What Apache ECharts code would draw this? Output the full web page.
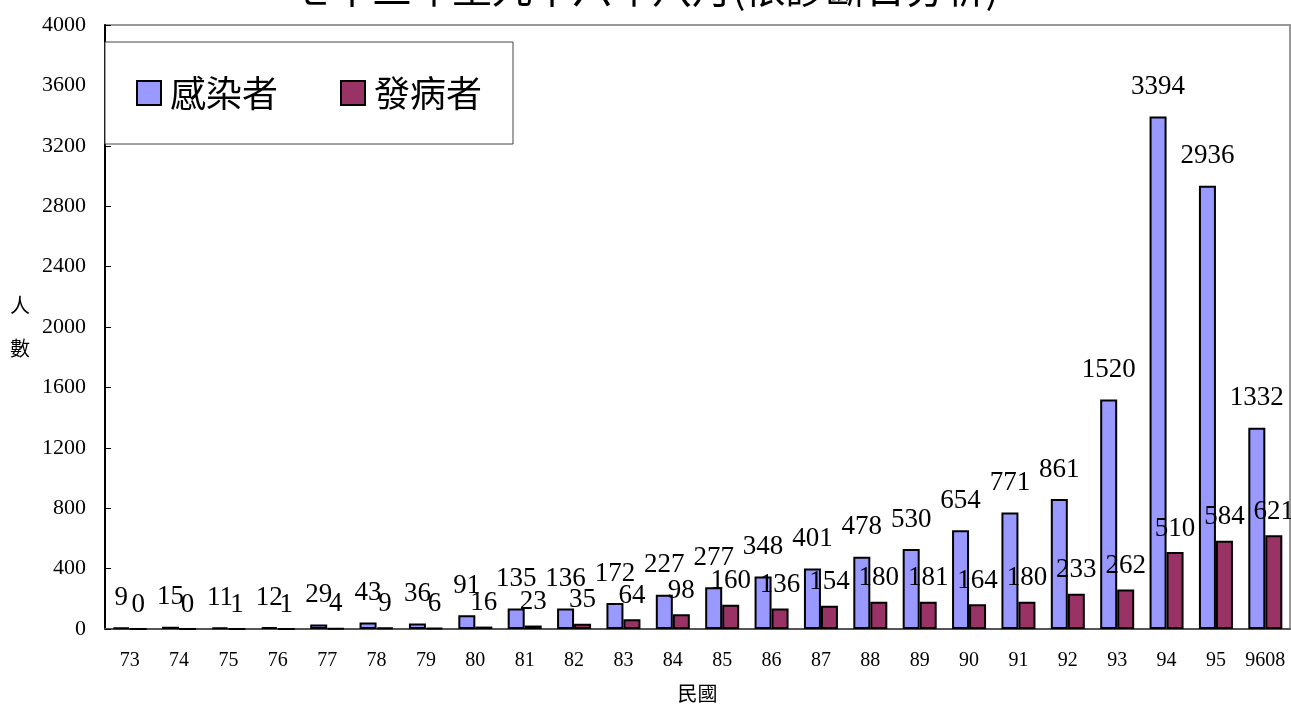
<!DOCTYPE html>
<html>
<head>
<meta charset="utf-8">
<script src="https://cdn.jsdelivr.net/npm/echarts@6/dist/echarts.min.js"></script>
<style>
html,body{margin:0;padding:0;background:#fff;}
#chart{width:1291px;height:704px;}
</style>
</head>
<body>
<div id="chart"></div>
<script>
const categories = ['73','74','75','76','77','78','79','80','81','82','83','84','85','86','87','88','89','90','91','92','93','94','95','9608'];
const infected = [9,15,11,12,29,43,36,91,135,136,172,227,277,348,401,478,530,654,771,861,1520,3394,2936,1332];
const diseased = [0,0,1,1,4,9,6,16,23,35,64,98,160,136,154,180,181,164,180,233,262,510,584,621];
const yTicks = {min:0, max:4000, interval:400};
const titleText = '七十三年至九十六年八月(依診斷日分析)';

const serif = '"Liberation Serif", "DejaVu Serif", serif';
const cjk = '"Noto Sans CJK TC", "Noto Sans CJK SC", sans-serif';

const chart = echarts.init(document.getElementById('chart'));
function labelStyle(dist){
  return {show:true, position:'top', distance:dist, color:'#000', fontFamily:serif, fontSize:27};
}
chart.setOption({
  animation:false,
  backgroundColor:'#fff',
  title:{text:titleText, left:'center', top:-37, textStyle:{fontFamily:cjk, fontSize:40, fontWeight:'normal', color:'#000'}},
  legend:{
    left:105, top:42, orient:'horizontal', icon:'rect',
    backgroundColor:'#fff', borderColor:'#444', borderWidth:1,
    padding:[33,31,33,31], itemGap:62, itemWidth:24, itemHeight:24,
    textStyle:{fontFamily:cjk, fontSize:36, color:'#000', padding:[0,0,0,4]},
    data:['感染者','發病者']
  },
  grid:{left:105, right:1, top:25, bottom:75, show:true, borderColor:'#999', borderWidth:2, outerBoundsMode:'none', containLabel:false},
  xAxis:{
    type:'category', data:categories,
    name:'民國', nameLocation:'middle', nameGap:54,
    nameTextStyle:{fontFamily:cjk, fontSize:20, color:'#000'},
    axisLine:{lineStyle:{color:'#555', width:2}},
    axisTick:{inside:true, length:6, lineStyle:{color:'#000'}},
    axisLabel:{interval:0, fontFamily:serif, fontSize:20, color:'#000', margin:22}
  },
  yAxis:{
    type:'value', min:yTicks.min, max:yTicks.max, interval:yTicks.interval,
    name:'人\n數', nameLocation:'middle', nameRotate:0, nameGap:75,
    nameTextStyle:{fontFamily:cjk, fontSize:20, color:'#000', lineHeight:43, padding:[0,0,9,0]},
    axisLine:{show:true, lineStyle:{color:'#000', width:2}},
    axisTick:{show:true, inside:true, length:6, lineStyle:{color:'#000'}},
    splitLine:{show:false},
    axisLabel:{fontFamily:serif, fontSize:22, color:'#000', margin:19, formatter:function(v){return String(v);}}
  },
  series:[
    {name:'感染者', type:'bar', data:infected, barWidth:17, barGap:'0%',
     itemStyle:{color:'#9999FF', borderColor:'#000', borderWidth:2}, label:labelStyle(16)},
    {name:'發病者', type:'bar', data:diseased, barWidth:17,
     itemStyle:{color:'#993366', borderColor:'#000', borderWidth:2}, label:labelStyle(10)}
  ]
});
</script>
</body>
</html>
